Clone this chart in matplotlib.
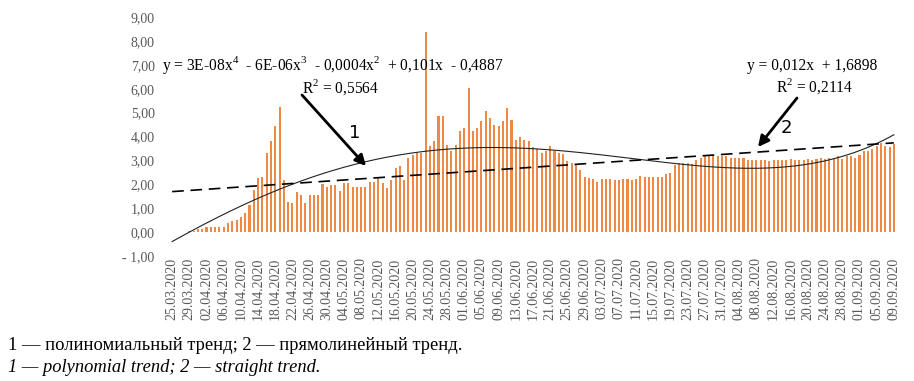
import numpy as np
import pandas as pd
import matplotlib
matplotlib.use('Agg')
import matplotlib.pyplot as plt

# daily values, 25.03.2020 - 09.09.2020
values = [
    0.01, 0.01, 0.01, 0.01, 0.03, 0.05, 0.11, 0.14, 0.20, 0.22,
    0.22, 0.22, 0.22, 0.40, 0.48, 0.50, 0.64, 0.81, 1.13, 1.76,
    2.25, 2.30, 3.30, 3.80, 4.42, 5.24, 2.20, 1.27, 1.20, 1.69,
    1.55, 1.23, 1.55, 1.55, 1.55, 2.02, 1.90, 1.96, 1.96, 1.74,
    2.07, 2.07, 1.90, 1.90, 1.90, 1.90, 2.10, 2.10, 2.25, 2.04,
    1.86, 2.18, 2.67, 2.75, 2.18, 3.10, 3.24, 3.30, 3.33, 8.36,
    3.59, 3.80, 4.85, 4.85, 3.66, 3.38, 3.66, 4.22, 4.36, 6.04,
    4.22, 4.36, 4.64, 5.06, 4.78, 4.50, 4.43, 4.64, 5.20, 4.70,
    3.87, 4.00, 3.87, 3.80, 3.56, 3.47, 3.30, 3.38, 3.61, 3.38,
    3.33, 3.26, 2.96, 2.89, 2.82, 2.60, 2.30, 2.25, 2.21, 2.11,
    2.21, 2.21, 2.21, 2.18, 2.18, 2.24, 2.21, 2.18, 2.24, 2.35,
    2.32, 2.32, 2.32, 2.30, 2.32, 2.44, 2.49, 2.82, 2.89, 2.89,
    2.89, 2.86, 3.03, 3.10, 3.19, 3.17, 3.24, 3.17, 3.17, 3.17,
    3.10, 3.10, 3.10, 3.10, 3.03, 3.03, 3.03, 3.03, 3.03, 2.96,
    3.03, 3.00, 3.03, 3.03, 3.05, 3.00, 3.03, 3.03, 3.05, 3.03,
    3.05, 3.10, 3.05, 3.10, 3.05, 3.17, 3.05, 3.17, 3.19, 3.10,
    3.24, 3.38, 3.38, 3.47, 3.59, 3.73, 3.59, 3.56, 3.70,
]
dates = pd.date_range('2020-03-25', '2020-09-09', freq='D')
labels = [d.strftime('%d.%m.%Y') for d in dates]

eq_poly = 'y = 3E-08x$^4$  - 6E-06x$^3$  - 0,0004x$^2$  + 0,101x  - 0,4887'
r2_poly = 'R$^2$ = 0,5564'
eq_lin = 'y = 0,012x  + 1,6898'
r2_lin = 'R$^2$ = 0,2114'
caption_ru = '1 — полиномиальный тренд; 2 — прямолинейный тренд.'
caption_en = '1 — polynomial trend; 2 — straight trend.'

plt.rcParams['font.family'] = ['Liberation Serif', 'DejaVu Serif']
plt.rcParams['mathtext.fontset'] = 'custom'
plt.rcParams['mathtext.rm'] = 'Liberation Serif'

W, H = 914, 381
fig = plt.figure(figsize=(W / 100, H / 100), dpi=100)
ax = fig.add_axes([170 / W, 1 - 256 / H, 726 / W, 239 / H])

x = np.arange(len(values))
y = np.array(values)
ax.bar(x, y, width=0.48, color='#EE8A45', linewidth=0)

# trend lines fitted to the data (Excel uses x = 1..n)
xn = x + 1
xs = np.linspace(0, len(values) - 1, 400)
p4 = np.polyfit(xn, y, 4)
p1 = np.polyfit(xn, y, 1)
ax.plot(xs, np.polyval(p4, xs + 1), color='#222222', lw=0.8)
ax.plot(xs, np.polyval(p1, xs + 1), color='black', lw=1.2, dashes=(7, 4))

ax.set_xlim(-0.5, len(values) - 0.5)
ax.set_ylim(-1, 9)
ax.set_yticks(np.arange(-1, 10, 1))
ax.set_yticklabels(['- 1,00'] + [('%.2f' % v).replace('.', ',') for v in range(0, 10)])
ax.set_xticks(x[::4])
ax.set_xticklabels(labels[::4], rotation=90)
ax.tick_params(length=0, labelsize=10, labelcolor='#595959')
ax.tick_params(axis='y', pad=11)
ax.tick_params(axis='x', pad=1)
for s in ax.spines.values():
    s.set_visible(False)

def px(xp, yp):
    return xp / W, 1 - yp / H

fig.text(*px(162, 65), eq_poly, fontsize=11.2, va='center', ha='left')
fig.text(*px(341, 87), r2_poly, fontsize=11.2, va='center', ha='center')
fig.text(*px(812, 66), eq_lin, fontsize=11.2, va='center', ha='center')
fig.text(*px(815, 86), r2_lin, fontsize=11.2, va='center', ha='center')
fig.text(*px(355, 133), '1', fontsize=13, va='center', ha='center', family='DejaVu Sans')
fig.text(*px(786, 128), '2', fontsize=13, va='center', ha='center', family='DejaVu Sans')

arrow = dict(arrowstyle='-|>', color='black', lw=2, mutation_scale=16, shrinkA=0, shrinkB=0)
fig.add_artist(matplotlib.patches.FancyArrowPatch(px(302, 95), px(366, 166),
               transform=fig.transFigure, **arrow))
fig.add_artist(matplotlib.patches.FancyArrowPatch(px(797, 98), px(758, 147),
               transform=fig.transFigure, **arrow))

fig.text(*px(8, 346), caption_ru, fontsize=13.3, va='center', ha='left')
fig.text(*px(8, 368), caption_en, fontsize=13.3, va='center', ha='left', style='italic')

fig.savefig('out.png', dpi=100)
